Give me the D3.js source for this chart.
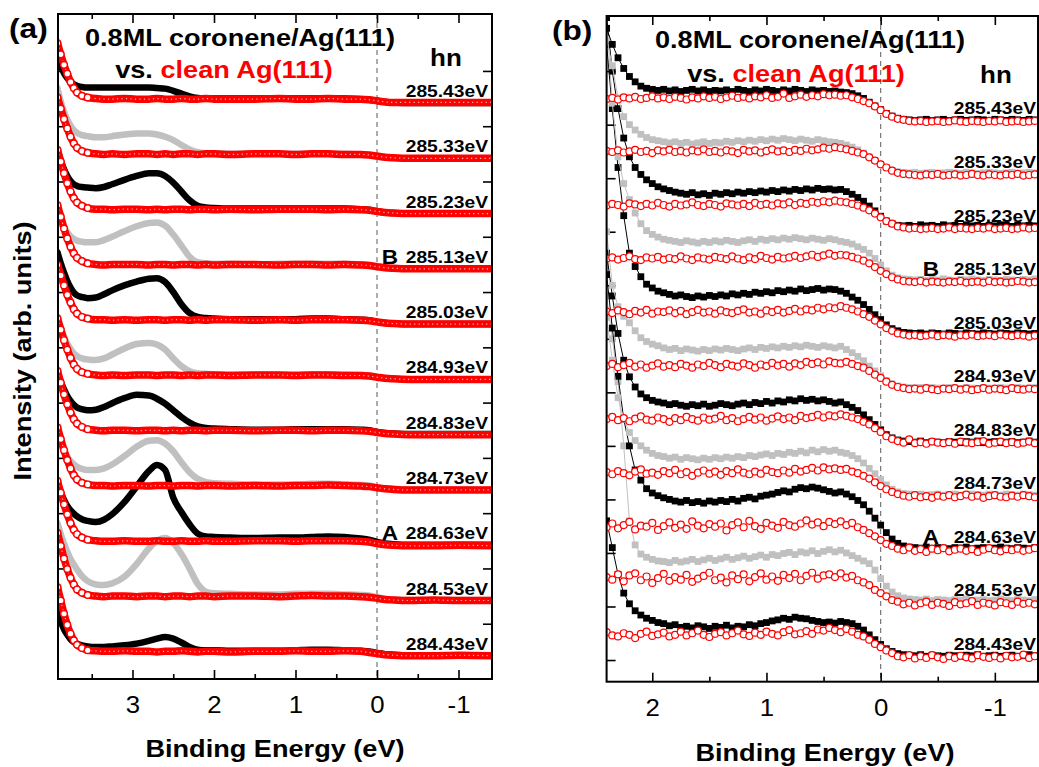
<!DOCTYPE html>
<html>
<head>
<meta charset="utf-8">
<script src="https://cdn.jsdelivr.net/npm/d3@7"></script>
<style>
  body { margin: 0; background: #fff; }
  text { font-family: Arial, "Liberation Sans", sans-serif; fill: #000; }
</style>
</head>
<body>
<svg id="chart" width="1039" height="767"></svg>
<script>
// photon energies, bottom row first
const photonLabels = ["284.43eV", "284.53eV", "284.63eV", "284.73eV", "284.83eV", "284.93eV",
  "285.03eV", "285.13eV", "285.23eV", "285.33eV", "285.43eV"];
const markRows = [2, 7];
const markLetters = ["A", "B"];

const ticksA = [3, 2, 1, 0, -1];
const minorA = [3.5, 2.5, 1.5, 0.5, -0.5];
const ticksB = [2, 1, 0, -1];
const minorB = [1.5, 0.5, -0.5];
const rowTicksA = [1, 2, 3, 4, 5, 6, 7, 8, 9, 10, 11];
const rowTicksB = [0, 1, 2, 3, 4, 5, 6, 7, 8, 9, 10, 11];

// panel (a): binding energy grid and intensities (relative to each row's offset)
const energyA = [3.92, 3.88, 3.84, 3.80, 3.76, 3.72, 3.68, 3.62, 3.55, 3.45, 3.35, 3.25, 3.10, 2.95, 2.80,
  2.70, 2.60, 2.50, 2.40, 2.30, 2.20, 2.10, 2.00, 1.80, 1.50, 1.20, 1.00, 0.80, 0.60, 0.40, 0.20, 0.10,
  0.00, -0.10, -0.20, -0.40, -0.70, -1.00, -1.40];

const coroneneA = [
  [1.25,1.05,0.90,0.80,0.72,0.67,0.64,0.61,0.59,0.58,0.58,0.59,0.61,0.64,0.69,0.73,0.76,0.73,0.66,0.58,0.53,0.52,0.52,0.51,0.51,0.51,0.52,0.53,0.53,0.52,0.51,0.50,0.47,0.45,0.44,0.43,0.43,0.43,0.43],
  [1.82,1.62,1.45,1.30,1.17,1.07,0.98,0.86,0.77,0.71,0.70,0.73,0.85,1.08,1.36,1.50,1.55,1.46,1.26,1.00,0.72,0.58,0.55,0.54,0.53,0.53,0.54,0.54,0.54,0.53,0.52,0.51,0.48,0.45,0.44,0.43,0.43,0.43,0.43],
  [1.55,1.38,1.24,1.13,1.05,0.99,0.94,0.89,0.86,0.84,0.88,0.98,1.20,1.48,1.76,1.87,1.78,1.28,1.02,0.80,0.63,0.58,0.57,0.56,0.55,0.56,0.56,0.57,0.58,0.57,0.54,0.52,0.48,0.45,0.44,0.43,0.43,0.43,0.43],
  [1.40,1.25,1.12,1.02,0.94,0.88,0.84,0.80,0.78,0.78,0.81,0.88,1.03,1.20,1.31,1.32,1.26,1.12,0.92,0.74,0.62,0.56,0.54,0.53,0.52,0.52,0.52,0.53,0.53,0.52,0.51,0.50,0.47,0.45,0.44,0.43,0.43,0.43,0.43],
  [1.55,1.38,1.24,1.12,1.03,0.96,0.91,0.88,0.86,0.87,0.92,0.99,1.08,1.14,1.13,1.07,0.98,0.86,0.74,0.64,0.57,0.54,0.53,0.52,0.51,0.51,0.52,0.52,0.52,0.52,0.51,0.50,0.47,0.45,0.44,0.43,0.43,0.43,0.43],
  [1.55,1.36,1.20,1.07,0.97,0.89,0.84,0.80,0.78,0.77,0.80,0.87,0.98,1.06,1.08,1.05,0.96,0.80,0.66,0.57,0.53,0.52,0.51,0.51,0.51,0.50,0.51,0.51,0.51,0.51,0.50,0.49,0.46,0.44,0.43,0.42,0.42,0.42,0.42],
  [1.72,1.52,1.35,1.20,1.08,0.99,0.94,0.91,0.89,0.90,0.96,1.03,1.12,1.19,1.24,1.25,1.18,1.00,0.78,0.62,0.55,0.53,0.52,0.51,0.51,0.51,0.51,0.52,0.52,0.51,0.50,0.49,0.46,0.44,0.43,0.42,0.42,0.42,0.42],
  [1.43,1.30,1.18,1.08,1.01,0.96,0.93,0.91,0.90,0.90,0.94,1.00,1.10,1.19,1.25,1.26,1.20,1.04,0.84,0.64,0.54,0.52,0.51,0.51,0.50,0.51,0.51,0.51,0.51,0.51,0.50,0.49,0.46,0.44,0.43,0.42,0.42,0.42,0.42],
  [1.57,1.38,1.22,1.10,1.01,0.95,0.92,0.90,0.89,0.88,0.90,0.95,1.03,1.10,1.15,1.15,1.10,0.98,0.82,0.66,0.56,0.53,0.52,0.51,0.51,0.51,0.51,0.51,0.51,0.51,0.50,0.49,0.46,0.44,0.43,0.42,0.42,0.42,0.42],
  [1.69,1.45,1.26,1.12,1.01,0.93,0.88,0.84,0.82,0.80,0.80,0.82,0.85,0.87,0.87,0.85,0.81,0.75,0.66,0.58,0.53,0.51,0.51,0.50,0.50,0.50,0.50,0.50,0.50,0.50,0.49,0.48,0.46,0.44,0.43,0.42,0.42,0.42,0.42],
  [1.30,1.10,0.96,0.87,0.80,0.76,0.73,0.71,0.70,0.70,0.70,0.70,0.70,0.70,0.70,0.69,0.68,0.64,0.59,0.54,0.51,0.50,0.50,0.50,0.50,0.50,0.50,0.50,0.50,0.50,0.49,0.48,0.46,0.44,0.43,0.42,0.42,0.42,0.42]
];

const cleanA = [
  [1.66,1.42,1.18,0.98,0.82,0.70,0.62,0.56,0.52,0.51,0.50,0.50,0.51,0.50,0.50,0.49,0.50,0.50,0.51,0.50,0.49,0.50,0.50,0.49,0.50,0.50,0.51,0.50,0.50,0.51,0.50,0.48,0.46,0.44,0.43,0.42,0.42,0.43,0.42],
  [1.64,1.41,1.18,0.99,0.83,0.71,0.62,0.56,0.52,0.50,0.49,0.50,0.50,0.49,0.50,0.50,0.49,0.50,0.50,0.49,0.50,0.50,0.49,0.50,0.50,0.49,0.50,0.51,0.50,0.50,0.49,0.48,0.46,0.44,0.43,0.42,0.43,0.42,0.42],
  [1.58,1.37,1.16,0.98,0.82,0.70,0.62,0.56,0.52,0.50,0.49,0.49,0.50,0.49,0.49,0.50,0.49,0.49,0.50,0.49,0.49,0.50,0.49,0.49,0.50,0.50,0.49,0.50,0.50,0.50,0.49,0.48,0.45,0.43,0.42,0.41,0.41,0.42,0.41],
  [1.55,1.34,1.14,0.96,0.81,0.69,0.61,0.55,0.52,0.50,0.50,0.49,0.50,0.50,0.49,0.50,0.50,0.49,0.50,0.50,0.49,0.50,0.50,0.49,0.50,0.49,0.50,0.50,0.51,0.50,0.49,0.48,0.46,0.44,0.43,0.42,0.42,0.42,0.42],
  [1.57,1.36,1.15,0.97,0.82,0.70,0.62,0.56,0.52,0.50,0.49,0.50,0.50,0.49,0.50,0.50,0.49,0.50,0.49,0.50,0.50,0.49,0.50,0.50,0.49,0.50,0.50,0.49,0.50,0.50,0.49,0.48,0.46,0.44,0.43,0.42,0.42,0.42,0.42],
  [1.52,1.32,1.13,0.96,0.81,0.69,0.61,0.55,0.52,0.50,0.49,0.50,0.49,0.50,0.50,0.49,0.50,0.50,0.49,0.50,0.49,0.50,0.50,0.49,0.50,0.50,0.49,0.50,0.50,0.49,0.49,0.48,0.46,0.44,0.43,0.42,0.42,0.42,0.42],
  [1.49,1.30,1.12,0.95,0.81,0.69,0.61,0.55,0.52,0.50,0.50,0.49,0.50,0.49,0.50,0.50,0.49,0.50,0.50,0.49,0.50,0.49,0.50,0.50,0.49,0.50,0.49,0.50,0.50,0.50,0.49,0.48,0.46,0.44,0.43,0.42,0.42,0.42,0.42],
  [1.57,1.36,1.15,0.97,0.82,0.70,0.62,0.56,0.52,0.50,0.49,0.50,0.50,0.50,0.49,0.50,0.50,0.49,0.50,0.50,0.49,0.50,0.49,0.50,0.50,0.49,0.50,0.50,0.49,0.50,0.49,0.48,0.46,0.44,0.43,0.42,0.42,0.42,0.42],
  [1.57,1.36,1.15,0.97,0.82,0.70,0.62,0.56,0.52,0.50,0.50,0.49,0.50,0.50,0.49,0.50,0.49,0.50,0.50,0.49,0.50,0.50,0.49,0.50,0.49,0.50,0.50,0.50,0.49,0.50,0.49,0.48,0.46,0.44,0.43,0.42,0.42,0.42,0.42],
  [1.52,1.32,1.13,0.96,0.81,0.69,0.61,0.55,0.52,0.50,0.49,0.50,0.49,0.50,0.50,0.49,0.50,0.49,0.50,0.50,0.49,0.50,0.50,0.49,0.50,0.50,0.49,0.50,0.50,0.49,0.49,0.48,0.46,0.44,0.43,0.42,0.42,0.42,0.42],
  [1.50,1.30,1.11,0.95,0.80,0.69,0.61,0.55,0.52,0.50,0.49,0.49,0.50,0.49,0.49,0.50,0.49,0.49,0.50,0.49,0.49,0.50,0.49,0.49,0.49,0.50,0.49,0.49,0.50,0.49,0.49,0.48,0.46,0.44,0.43,0.43,0.43,0.43,0.43]
];

// panel (b): sampled every 0.05 eV from 2.40 eV down to -1.35 eV
const energyB = d3.range(76).map(i => +(2.40 - 0.05 * i).toFixed(2));

const coroneneB = [
  [2.60,2.10,1.60,1.25,1.05,0.92,0.84,0.78,0.74,0.70, 0.68,0.64,0.66,0.61,0.63,0.60,0.64,0.62,0.59,0.63,
   0.61,0.65,0.60,0.63,0.62,0.66,0.64,0.68,0.70,0.73, 0.75,0.78,0.76,0.80,0.78,0.77,0.74,0.72,0.70,0.71,
   0.69,0.72,0.70,0.68,0.63,0.56,0.47,0.38,0.29,0.21, 0.16,0.12,0.10,0.09,0.08,0.10,0.07,0.09,0.08,0.07,
   0.09,0.08,0.07,0.09,0.08,0.10,0.07,0.08,0.09,0.07, 0.08,0.09,0.07,0.08,0.10,0.08],
  [5.80,5.00,4.20,3.00,1.60,1.15,0.98,0.92,0.88,0.85, 0.84,0.82,0.86,0.83,0.85,0.88,0.84,0.87,0.90,0.86,
   0.89,0.92,0.88,0.91,0.94,0.90,0.93,0.96,0.92,0.97, 0.95,0.99,1.01,0.97,1.02,1.00,1.04,0.99,1.03,1.06,
   1.02,1.05,1.00,0.95,0.90,0.85,0.80,0.68,0.52,0.38, 0.27,0.20,0.16,0.14,0.13,0.12,0.14,0.11,0.13,0.12,
   0.11,0.13,0.12,0.14,0.11,0.12,0.13,0.11,0.12,0.14, 0.12,0.11,0.13,0.12,0.11,0.13],
  [5.20,4.20,3.30,2.50,2.00,1.55,1.36,1.20,1.12,1.07, 1.03,1.00,0.97,0.95,0.98,0.94,0.96,0.93,0.97,0.95,
   0.98,0.96,1.00,0.97,1.02,1.04,1.01,1.06,1.08,1.10, 1.13,1.16,1.14,1.19,1.22,1.20,1.23,1.21,1.18,1.15,
   1.12,1.14,1.10,1.05,0.98,0.90,0.78,0.65,0.52,0.38, 0.26,0.18,0.13,0.11,0.10,0.09,0.11,0.08,0.10,0.09,
   0.08,0.10,0.09,0.11,0.08,0.09,0.10,0.08,0.09,0.11, 0.09,0.08,0.10,0.09,0.08,0.10],
  [3.40,2.60,1.90,1.50,1.25,1.10,1.00,0.92,0.86,0.82, 0.80,0.77,0.79,0.75,0.78,0.76,0.74,0.77,0.75,0.78,
   0.76,0.79,0.77,0.80,0.78,0.82,0.80,0.83,0.85,0.82, 0.86,0.84,0.88,0.86,0.90,0.87,0.92,0.89,0.93,0.90,
   0.92,0.88,0.86,0.82,0.76,0.68,0.58,0.48,0.37,0.27, 0.19,0.14,0.11,0.10,0.09,0.10,0.08,0.09,0.10,0.08,
   0.09,0.10,0.08,0.09,0.10,0.09,0.08,0.10,0.09,0.08, 0.10,0.09,0.08,0.10,0.09,0.08],
  [3.60,2.80,2.10,1.60,1.29,1.10,0.97,0.90,0.85,0.82, 0.80,0.77,0.79,0.76,0.74,0.77,0.75,0.78,0.74,0.76,
   0.79,0.77,0.75,0.78,0.80,0.77,0.81,0.79,0.83,0.80, 0.84,0.82,0.86,0.84,0.88,0.85,0.87,0.84,0.86,0.83,
   0.80,0.82,0.77,0.72,0.66,0.58,0.49,0.40,0.30,0.21, 0.15,0.11,0.09,0.08,0.07,0.09,0.06,0.08,0.07,0.06,
   0.08,0.07,0.06,0.08,0.07,0.09,0.06,0.07,0.08,0.06, 0.07,0.08,0.06,0.07,0.09,0.07],
  [3.00,2.00,1.60,1.42,1.30,1.15,1.02,0.95,0.90,0.87, 0.83,0.80,0.82,0.78,0.81,0.79,0.77,0.80,0.78,0.81,
   0.79,0.82,0.80,0.78,0.81,0.83,0.80,0.84,0.82,0.85, 0.83,0.86,0.84,0.87,0.85,0.88,0.86,0.84,0.87,0.85,
   0.83,0.86,0.80,0.74,0.67,0.59,0.49,0.40,0.31,0.22, 0.16,0.12,0.10,0.09,0.08,0.09,0.07,0.09,0.08,0.07,
   0.09,0.08,0.07,0.09,0.08,0.07,0.09,0.08,0.07,0.09, 0.08,0.07,0.09,0.08,0.07,0.09],
  [5.50,4.30,3.20,2.30,1.60,1.35,1.16,1.02,0.95,0.89, 0.86,0.83,0.80,0.82,0.79,0.77,0.80,0.78,0.81,0.79,
   0.82,0.80,0.84,0.82,0.85,0.83,0.87,0.85,0.88,0.86, 0.90,0.88,0.91,0.89,0.93,0.90,0.92,0.94,0.91,0.93,
   0.92,0.89,0.85,0.78,0.72,0.64,0.55,0.45,0.36,0.26, 0.19,0.15,0.12,0.11,0.10,0.11,0.09,0.11,0.10,0.09,
   0.11,0.10,0.09,0.11,0.10,0.09,0.11,0.10,0.09,0.11, 0.10,0.09,0.11,0.10,0.09,0.10],
  [5.00,3.40,2.40,1.90,1.60,1.35,1.15,1.02,0.95,0.90, 0.86,0.84,0.82,0.80,0.83,0.81,0.79,0.82,0.80,0.83,
   0.81,0.84,0.82,0.80,0.83,0.85,0.82,0.86,0.84,0.87, 0.85,0.88,0.86,0.89,0.87,0.85,0.88,0.86,0.84,0.87,
   0.85,0.82,0.80,0.77,0.72,0.67,0.60,0.50,0.38,0.27, 0.19,0.14,0.12,0.11,0.10,0.11,0.09,0.11,0.10,0.12,
   0.10,0.09,0.11,0.10,0.12,0.10,0.09,0.11,0.10,0.09, 0.11,0.10,0.09,0.11,0.10,0.12],
  [4.00,3.00,2.30,1.75,1.40,1.20,1.07,0.97,0.90,0.84, 0.80,0.77,0.74,0.72,0.70,0.73,0.69,0.71,0.68,0.72,
   0.70,0.73,0.71,0.74,0.72,0.75,0.73,0.76,0.74,0.77, 0.75,0.78,0.76,0.79,0.77,0.80,0.78,0.81,0.79,0.80,
   0.78,0.79,0.75,0.70,0.64,0.57,0.48,0.39,0.29,0.20, 0.15,0.12,0.11,0.12,0.10,0.13,0.11,0.12,0.10,0.13,
   0.11,0.12,0.10,0.13,0.11,0.12,0.10,0.12,0.11,0.13, 0.12,0.10,0.13,0.11,0.12,0.11],
  [2.60,2.10,1.50,1.15,1.00,0.90,0.82,0.76,0.72,0.70, 0.68,0.66,0.68,0.65,0.67,0.64,0.66,0.68,0.65,0.67,
   0.66,0.69,0.67,0.70,0.68,0.71,0.69,0.72,0.70,0.73, 0.71,0.74,0.72,0.70,0.73,0.71,0.69,0.72,0.70,0.68,
   0.67,0.65,0.62,0.58,0.53,0.47,0.40,0.33,0.26,0.20, 0.15,0.12,0.11,0.10,0.11,0.09,0.10,0.11,0.09,0.10,
   0.11,0.10,0.09,0.11,0.10,0.09,0.10,0.11,0.10,0.09, 0.10,0.11,0.09,0.10,0.11,0.10],
  [1.80,1.50,1.25,1.05,0.90,0.80,0.72,0.68,0.66,0.64, 0.66,0.63,0.65,0.62,0.64,0.66,0.63,0.65,0.62,0.64,
   0.63,0.65,0.62,0.66,0.64,0.62,0.65,0.63,0.66,0.64, 0.62,0.65,0.63,0.66,0.64,0.62,0.65,0.63,0.64,0.62,
   0.63,0.61,0.60,0.58,0.54,0.49,0.42,0.35,0.28,0.21, 0.16,0.12,0.10,0.09,0.08,0.09,0.10,0.08,0.09,0.10,
   0.08,0.09,0.10,0.08,0.09,0.10,0.09,0.08,0.10,0.09, 0.08,0.10,0.09,0.08,0.10,0.09]
];

const cleanB = [
  [0.52,0.46,0.44,0.50,0.47,0.41,0.49,0.53,0.45,0.48, 0.51,0.44,0.47,0.53,0.46,0.50,0.55,0.47,0.43,0.49,
   0.52,0.46,0.50,0.55,0.48,0.45,0.51,0.47,0.53,0.49, 0.46,0.52,0.56,0.48,0.50,0.54,0.49,0.57,0.55,0.60,
   0.56,0.52,0.58,0.53,0.47,0.44,0.38,0.30,0.24,0.18, 0.13,0.07,0.05,0.09,0.03,0.07,0.04,0.09,0.05,0.02,
   0.07,0.04,0.08,0.05,0.03,0.09,0.06,0.04,0.07,0.03, 0.08,0.05,0.06,0.10,0.04,0.07],
  [0.55,0.50,0.60,0.47,0.58,0.62,0.49,0.56,0.44,0.53, 0.61,0.48,0.55,0.50,0.59,0.46,0.52,0.57,0.63,0.49,
   0.54,0.45,0.58,0.51,0.60,0.47,0.55,0.62,0.50,0.56, 0.48,0.59,0.53,0.61,0.49,0.57,0.63,0.52,0.58,0.60,
   0.55,0.62,0.54,0.57,0.49,0.45,0.40,0.31,0.25,0.19, 0.12,0.09,0.04,0.07,0.02,0.06,0.09,0.03,0.07,0.05,
   0.01,0.08,0.04,0.06,0.10,0.03,0.07,0.05,0.02,0.08, 0.06,0.03,0.09,0.05,0.07,0.04],
  [0.48,0.55,0.46,0.52,0.58,0.44,0.51,0.49,0.56,0.43, 0.50,0.57,0.47,0.53,0.45,0.59,0.51,0.46,0.54,0.49,
   0.55,0.42,0.52,0.57,0.48,0.60,0.50,0.45,0.56,0.51, 0.47,0.58,0.52,0.49,0.55,0.61,0.53,0.57,0.50,0.58,
   0.54,0.59,0.52,0.56,0.48,0.43,0.37,0.31,0.24,0.17, 0.13,0.08,0.05,0.10,0.04,0.07,0.02,0.08,0.05,0.09,
   0.03,0.06,0.08,0.04,0.07,0.02,0.06,0.09,0.05,0.03, 0.07,0.05,0.08,0.04,0.06,0.09],
  [0.51,0.47,0.53,0.49,0.45,0.52,0.56,0.48,0.50,0.46, 0.53,0.49,0.55,0.47,0.51,0.44,0.50,0.54,0.48,0.52,
   0.46,0.53,0.49,0.56,0.50,0.47,0.52,0.48,0.55,0.51, 0.49,0.54,0.50,0.57,0.52,0.55,0.59,0.54,0.60,0.56,
   0.58,0.55,0.57,0.52,0.49,0.44,0.39,0.32,0.25,0.19, 0.14,0.10,0.07,0.05,0.08,0.04,0.06,0.03,0.07,0.05,
   0.08,0.04,0.06,0.09,0.05,0.07,0.03,0.06,0.08,0.05, 0.04,0.07,0.05,0.08,0.06,0.04],
  [0.50,0.54,0.48,0.52,0.46,0.51,0.55,0.49,0.47,0.53, 0.50,0.45,0.52,0.48,0.54,0.50,0.47,0.53,0.49,0.51,
   0.56,0.48,0.52,0.46,0.50,0.54,0.49,0.53,0.47,0.51, 0.55,0.50,0.53,0.48,0.56,0.52,0.54,0.58,0.53,0.57,
   0.55,0.59,0.56,0.53,0.50,0.45,0.40,0.33,0.26,0.18, 0.13,0.09,0.06,0.12,0.05,0.07,0.04,0.08,0.06,0.05,
   0.07,0.04,0.08,0.06,0.05,0.07,0.09,0.04,0.06,0.08, 0.05,0.07,0.04,0.06,0.08,0.05],
  [0.49,0.53,0.47,0.51,0.55,0.48,0.52,0.46,0.50,0.54, 0.48,0.51,0.47,0.53,0.50,0.46,0.52,0.49,0.55,0.51,
   0.47,0.53,0.50,0.48,0.54,0.51,0.46,0.52,0.49,0.55, 0.50,0.53,0.48,0.54,0.51,0.57,0.53,0.56,0.52,0.58,
   0.55,0.54,0.57,0.53,0.49,0.46,0.40,0.33,0.27,0.20, 0.14,0.10,0.08,0.06,0.07,0.05,0.08,0.06,0.04,0.07,
   0.06,0.08,0.05,0.07,0.04,0.06,0.08,0.05,0.07,0.06, 0.04,0.08,0.06,0.05,0.07,0.06],
  [0.51,0.48,0.53,0.50,0.46,0.52,0.49,0.54,0.47,0.51, 0.50,0.53,0.48,0.52,0.46,0.50,0.54,0.49,0.51,0.47,
   0.53,0.50,0.48,0.52,0.55,0.49,0.51,0.47,0.53,0.50, 0.54,0.49,0.52,0.56,0.51,0.55,0.53,0.58,0.55,0.59,
   0.57,0.61,0.58,0.55,0.51,0.46,0.41,0.34,0.27,0.20, 0.15,0.10,0.08,0.06,0.07,0.05,0.06,0.08,0.05,0.07,
   0.06,0.04,0.07,0.06,0.08,0.05,0.06,0.07,0.05,0.08, 0.06,0.05,0.07,0.06,0.04,0.06],
  [0.50,0.52,0.48,0.51,0.54,0.49,0.47,0.52,0.50,0.53, 0.48,0.51,0.49,0.54,0.50,0.47,0.52,0.50,0.48,0.53,
   0.51,0.49,0.54,0.50,0.47,0.52,0.49,0.55,0.51,0.48, 0.53,0.50,0.52,0.55,0.51,0.54,0.57,0.53,0.56,0.59,
   0.55,0.57,0.56,0.53,0.50,0.46,0.41,0.34,0.27,0.21, 0.15,0.11,0.08,0.07,0.06,0.08,0.05,0.07,0.06,0.05,
   0.07,0.06,0.08,0.05,0.06,0.07,0.05,0.08,0.06,0.07, 0.05,0.06,0.08,0.07,0.05,0.06],
  [0.49,0.52,0.50,0.47,0.53,0.51,0.48,0.52,0.49,0.54, 0.50,0.47,0.52,0.49,0.51,0.55,0.50,0.48,0.52,0.50,
   0.47,0.53,0.51,0.49,0.52,0.48,0.54,0.50,0.52,0.49, 0.53,0.51,0.55,0.50,0.54,0.52,0.56,0.54,0.57,0.55,
   0.58,0.56,0.55,0.52,0.49,0.45,0.40,0.34,0.27,0.20, 0.15,0.10,0.08,0.06,0.07,0.05,0.06,0.07,0.05,0.06,
   0.08,0.05,0.07,0.06,0.05,0.07,0.06,0.08,0.05,0.06, 0.07,0.05,0.06,0.08,0.06,0.07],
  [0.51,0.49,0.52,0.48,0.50,0.53,0.49,0.51,0.47,0.52, 0.50,0.53,0.49,0.51,0.48,0.52,0.50,0.54,0.49,0.51,
   0.48,0.52,0.50,0.47,0.53,0.50,0.52,0.48,0.51,0.54, 0.50,0.52,0.49,0.53,0.51,0.55,0.52,0.54,0.57,0.55,
   0.58,0.56,0.54,0.51,0.48,0.45,0.39,0.33,0.26,0.20, 0.14,0.10,0.08,0.07,0.06,0.05,0.07,0.06,0.08,0.05,
   0.06,0.07,0.05,0.06,0.08,0.06,0.05,0.07,0.06,0.05, 0.07,0.06,0.08,0.05,0.06,0.07],
  [0.48,0.50,0.47,0.51,0.49,0.52,0.48,0.50,0.53,0.49, 0.51,0.48,0.52,0.50,0.47,0.51,0.49,0.53,0.50,0.52,
   0.48,0.51,0.54,0.50,0.52,0.49,0.53,0.51,0.55,0.50, 0.52,0.58,0.50,0.53,0.56,0.52,0.55,0.53,0.57,0.55,
   0.56,0.54,0.55,0.51,0.48,0.44,0.40,0.34,0.27,0.20, 0.15,0.11,0.09,0.07,0.06,0.07,0.05,0.06,0.07,0.05,
   0.06,0.08,0.06,0.05,0.07,0.06,0.05,0.07,0.06,0.08, 0.05,0.06,0.07,0.05,0.06,0.07]
];

// ---------------------------------------------------------------
const svg = d3.select("#chart");
const RED = "#ff0000", GRAY = "#c0c0c0";
const STRETCH = 1.13;

const boxA = {left: 58, right: 492, top: 14, bottom: 679};
const boxB = {left: 606.6, right: 1038, top: 16, bottom: 681.7};

const xA = d3.scaleLinear().domain([3.914, -1.411]).range([boxA.left, boxA.right]);
const yA = d3.scaleLinear().domain([0, 12.03]).range([boxA.bottom, boxA.top]);
const xB = d3.scaleLinear().domain([2.40, -1.378]).range([boxB.left, boxB.right]);
const yB = d3.scaleLinear().domain([-0.405, 12.03]).range([boxB.bottom, boxB.top]);

function widen(sel, f) {
  sel.each(function () {
    const len = this.getComputedTextLength();
    d3.select(this).attr("textLength", len * f).attr("lengthAdjust", "spacingAndGlyphs");
  });
}

function addText(x, y, str, size, opts = {}) {
  const t = svg.append("text")
    .attr("x", x).attr("y", y)
    .attr("font-size", size)
    .attr("font-weight", opts.weight || "bold")
    .attr("text-anchor", opts.anchor || "middle")
    .text(str);
  if (opts.fill) t.style("fill", opts.fill);
  if (opts.rotate) t.attr("transform", `rotate(${opts.rotate},${x},${y})`);
  widen(t, opts.stretch || STRETCH);
  return t;
}

function drawFrame(box, x, y, major, minor, rowTicks, id, rightTicks) {
  const g = svg.append("g");
  // zero line
  g.append("line")
    .attr("x1", x(0)).attr("x2", x(0))
    .attr("y1", box.top).attr("y2", box.bottom)
    .attr("stroke", "#777").attr("stroke-width", 1.2)
    .attr("stroke-dasharray", "5,4");

  const axes = svg.append("g").attr("class", "axes");
  const fmt = d => String(d);
  const bottom = axes.append("g").attr("transform", `translate(0,${box.bottom})`)
    .call(d3.axisBottom(x).tickValues(major).tickSize(-9).tickPadding(18).tickFormat(fmt));
  axes.append("g").attr("transform", `translate(0,${box.bottom})`)
    .call(d3.axisBottom(x).tickValues(minor).tickSize(-5).tickFormat(""));
  axes.append("g").attr("transform", `translate(0,${box.top})`)
    .call(d3.axisTop(x).tickValues(major).tickSize(-9).tickFormat(""));
  axes.append("g").attr("transform", `translate(0,${box.top})`)
    .call(d3.axisTop(x).tickValues(minor).tickSize(-5).tickFormat(""));
  axes.append("g").attr("transform", `translate(${box.left},0)`)
    .call(d3.axisLeft(y).tickValues(rowTicks).tickSize(-9).tickFormat(""));
  if (rightTicks) {
    axes.append("g").attr("transform", `translate(${box.right},0)`)
      .call(d3.axisRight(y).tickValues(rowTicks).tickSize(-9).tickFormat(""));
  }
  axes.selectAll(".domain").remove();
  axes.selectAll(".tick line").attr("stroke", "#000").attr("stroke-width", 1.6);
  bottom.selectAll("text")
    .attr("font-size", 23)
    .attr("font-family", "Arial, 'Liberation Sans', sans-serif")
    .style("fill", "#000");
  widen(bottom.selectAll("text"), 1.12);

  svg.append("defs").append("clipPath").attr("id", id)
    .append("rect")
    .attr("x", box.left).attr("y", box.top)
    .attr("width", box.right - box.left).attr("height", box.bottom - box.top);
}

function drawBorder(box) {
  svg.append("rect")
    .attr("x", box.left).attr("y", box.top)
    .attr("width", box.right - box.left).attr("height", box.bottom - box.top)
    .attr("fill", "none").attr("stroke", "#000").attr("stroke-width", 2);
}

// ---------------- panel (a)
drawFrame(boxA, xA, yA, ticksA, minorA, rowTicksA, "clipA", true);
const plotA = svg.append("g").attr("clip-path", "url(#clipA)");
const lineA = d3.line().x(d => xA(d[0])).y(d => yA(d[1])).curve(d3.curveMonotoneX);

photonLabels.forEach((lab, k) => {
  const cor = energyA.map((e, i) => [e, k + coroneneA[k][i]]).filter(d => !isNaN(d[1]));
  const cln = energyA.map((e, i) => [e, k + cleanA[k][i]]).filter(d => !isNaN(d[1]));
  plotA.append("path").datum(cor)
    .attr("d", lineA).attr("fill", "none")
    .attr("stroke", k % 2 === 0 ? "#000" : GRAY)
    .attr("stroke-width", 6.5).attr("stroke-linejoin", "round").attr("stroke-linecap", "round");
  plotA.append("path").datum(cln)
    .attr("d", lineA).attr("fill", "none")
    .attr("stroke", RED).attr("stroke-width", 7.5).attr("stroke-linecap", "round");
  plotA.append("path").datum(cln)
    .attr("d", lineA).attr("fill", "none")
    .attr("stroke", "#ffb4b4").attr("stroke-width", 1.2)
    .attr("stroke-dasharray", "1.2,3.3");
  plotA.selectAll(null).data(cln.slice(0, 9)).enter().append("circle")
    .attr("cx", d => xA(d[0])).attr("cy", d => yA(d[1]))
    .attr("r", 3.3).attr("fill", "#fff").attr("stroke", RED).attr("stroke-width", 1.4);
});
drawBorder(boxA);

// ---------------- panel (b)
drawFrame(boxB, xB, yB, ticksB, minorB, rowTicksB, "clipB", false);
const plotB = svg.append("g").attr("clip-path", "url(#clipB)");
const lineB = d3.line().x(d => xB(d[0])).y(d => yB(d[1]));

photonLabels.forEach((lab, k) => {
  const col = k % 2 === 0 ? "#000" : GRAY;
  const cor = energyB.map((e, i) => [e, k + coroneneB[k][i]]).filter(d => !isNaN(d[1]));
  const cln = energyB.map((e, i) => [e, k + cleanB[k][i]]).filter(d => !isNaN(d[1]));
  plotB.append("path").datum(cor)
    .attr("d", lineB).attr("fill", "none")
    .attr("stroke", col).attr("stroke-width", 1);
  plotB.selectAll(null).data(cor).enter().append("rect")
    .attr("x", d => xB(d[0]) - 3.4).attr("y", d => yB(d[1]) - 3.4)
    .attr("width", 6.8).attr("height", 6.8).attr("fill", col);
  plotB.selectAll(null).data(cln).enter().append("circle")
    .attr("cx", d => xB(d[0])).attr("cy", d => yB(d[1]))
    .attr("r", 3.5).attr("fill", "#fff").attr("stroke", RED).attr("stroke-width", 1.2);
});
drawBorder(boxB);

// ---------------- labels
photonLabels.forEach((lab, k) => {
  addText(488, yA(k + 0.42) - 6, lab, 17, {anchor: "end"});
  addText(1036, yB(k + 0.06) - 7, lab, 17, {anchor: "end"});
});
markRows.forEach((k, i) => {
  addText(390, yA(k + 0.42) - 5, markLetters[i], 20);
  addText(931, yB(k + 0.06) - 6, markLetters[i], 20);
});

addText(9, 38, "(a)", 28, {anchor: "start"});
addText(552, 40, "(b)", 28, {anchor: "start"});

addText(240, 46, "0.8ML coronene/Ag(111)", 24);
addText(810, 48, "0.8ML coronene/Ag(111)", 24);

function vsLine(cx, y) {
  const t = svg.append("text").attr("x", cx).attr("y", y)
    .attr("font-size", 24).attr("font-weight", "bold").attr("text-anchor", "middle");
  t.append("tspan").text("vs. ");
  t.append("tspan").style("fill", RED).text("clean Ag(111)");
  widen(t, STRETCH);
}
vsLine(224, 78);
vsLine(796, 82);

addText(446, 66, "hn", 23);
addText(996, 83, "hn", 23);

addText(275, 757, "Binding Energy (eV)", 24);
addText(825, 761, "Binding Energy (eV)", 24);
addText(31, 351, "Intensity (arb. units)", 24, {rotate: -90});
</script>
</body>
</html>
